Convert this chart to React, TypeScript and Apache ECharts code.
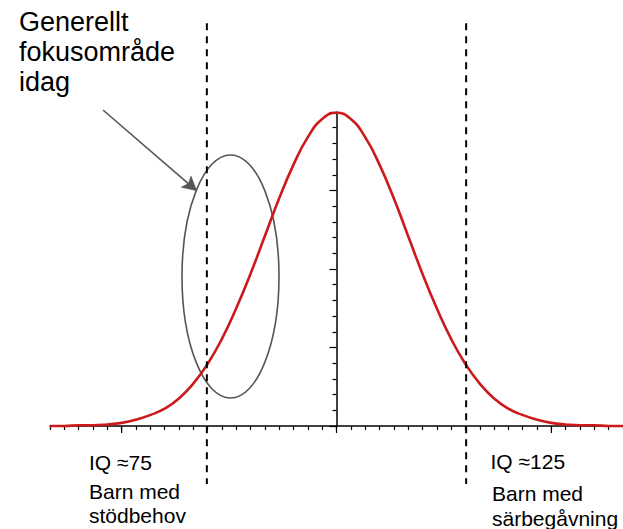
import React, { useEffect, useRef } from "react";
import * as echarts from "echarts";

// z-values (standard units) along the x-axis
const xValues = [
  -4, -3.8, -3.6, -3.4, -3.2, -3, -2.8, -2.6, -2.4, -2.2, -2, -1.8, -1.6, -1.4, -1.2, -1, -0.8,
  -0.6, -0.4, -0.2, 0, 0.2, 0.4, 0.6, 0.8, 1, 1.2, 1.4, 1.6, 1.8, 2, 2.2, 2.4, 2.6, 2.8, 3, 3.2,
  3.4, 3.6, 3.8, 4,
];
// curve heights
const density = [
  0, 0, 0.001, 0.001, 0.002, 0.004, 0.008, 0.014, 0.022, 0.035, 0.054, 0.079, 0.111, 0.15, 0.194,
  0.242, 0.29, 0.333, 0.368, 0.391, 0.399, 0.391, 0.368, 0.333, 0.29, 0.242, 0.194, 0.15, 0.111,
  0.079, 0.054, 0.035, 0.022, 0.014, 0.008, 0.004, 0.002, 0.001, 0.001, 0, 0,
];
const majorXTicks = [-3, 0, 3];
const dashedMarks = [-1.81, 1.81];
const dashedSpan = [-0.074, 0.513];

const titleLines = ["Generellt", "fokusområde", "idag"];
const leftLabels = ["IQ ≈75", "Barn med", "stödbehov"];
const rightLabels = ["IQ ≈125", "Barn med", "särbegåvning"];

const FONT = "'Liberation Sans', Arial, Helvetica, sans-serif";

export default function App() {
  const ref = useRef<HTMLDivElement>(null);

  useEffect(() => {
    if (!ref.current) return;
    const chart = echarts.init(ref.current, undefined, { renderer: "svg" });

    const tip = [196.7, 190.7];
    const start = [103, 110];
    const dx = tip[0] - start[0];
    const dy = tip[1] - start[1];
    const len = Math.sqrt(dx * dx + dy * dy);
    const ux = dx / len;
    const uy = dy / len;
    const px = -uy;
    const py = ux;
    const headLen = 14;
    const halfW = 7.5;
    const notch = 11;
    const bx = tip[0] - headLen * ux;
    const by = tip[1] - headLen * uy;
    const nx = tip[0] - notch * ux;
    const ny = tip[1] - notch * uy;

    const text = (t: string, x: number, y: number, size: number) => ({
      type: "text",
      x,
      y,
      style: {
        text: t,
        fontSize: size,
        fontFamily: FONT,
        fill: "#000",
        align: "left",
        verticalAlign: "middle",
      },
    });

    const graphics: any[] = [
      {
        type: "ellipse",
        shape: { cx: 230.5, cy: 276.5, rx: 48.5, ry: 121.5 },
        style: { fill: "none", stroke: "#555", lineWidth: 1.6 },
      },
      {
        type: "line",
        shape: { x1: start[0], y1: start[1], x2: nx, y2: ny },
        style: { stroke: "#555", lineWidth: 1.6 },
      },
      {
        type: "polygon",
        shape: {
          points: [
            [tip[0], tip[1]],
            [bx + halfW * px, by + halfW * py],
            [nx, ny],
            [bx - halfW * px, by - halfW * py],
          ],
        },
        style: { fill: "#555", stroke: "#555", lineWidth: 0.5 },
      },
      text(titleLines[0], 19, 22, 27),
      text(titleLines[1], 19, 52, 27),
      text(titleLines[2], 19, 82, 27),
      text(leftLabels[0], 89, 462, 21),
      text(leftLabels[1], 89, 491.5, 21),
      text(leftLabels[2], 89, 515.5, 21),
      text(rightLabels[0], 490.5, 461, 21),
      text(rightLabels[1], 492, 493.5, 21),
      text(rightLabels[2], 492, 518, 21),
    ];

    chart.setOption({
      animation: false,
      grid: { left: 50, top: 112, width: 573.4, height: 314 },
      xAxis: {
        type: "value",
        min: -4,
        max: 4,
        interval: 0.2,
        axisLine: { show: true, onZero: true, lineStyle: { color: "#000", width: 1.5 } },
        axisTick: { show: true, length: 4, lineStyle: { color: "#000", width: 1.2 } },
        axisLabel: { show: false },
        splitLine: { show: false },
      },
      yAxis: {
        type: "value",
        min: 0,
        max: 0.4,
        interval: 0.1,
        axisLine: { show: true, onZero: true, lineStyle: { color: "#000", width: 1.5 } },
        axisTick: { show: true, length: 7, lineStyle: { color: "#000", width: 1.2 } },
        minorTick: { show: true, splitNumber: 5, length: 4, lineStyle: { color: "#000", width: 1.2 } },
        axisLabel: { show: false },
        splitLine: { show: false },
        minorSplitLine: { show: false },
      },
      series: [
        {
          type: "custom",
          clip: false,
          silent: true,
          data: majorXTicks.map((v) => [v]),
          renderItem: (_params: any, api: any) => {
            const p = api.coord([api.value(0), 0]);
            return {
              type: "line",
              shape: { x1: p[0], y1: p[1], x2: p[0], y2: p[1] + 7 },
              style: { stroke: "#000", lineWidth: 1.2 },
            };
          },
        },
        {
          type: "line",
          data: xValues.map((x, i) => [x, density[i]]),
          smooth: true,
          symbol: "none",
          clip: false,
          lineStyle: { color: "#cc1a1c", width: 2.6 },
          z: 3,
        },
        {
          type: "custom",
          clip: false,
          silent: true,
          z: 4,
          data: dashedMarks.map((v) => [v]),
          renderItem: (_params: any, api: any) => {
            const top = api.coord([api.value(0), dashedSpan[1]]);
            const bottom = api.coord([api.value(0), dashedSpan[0]]);
            return {
              type: "line",
              shape: { x1: top[0], y1: top[1], x2: bottom[0], y2: bottom[1] },
              style: { stroke: "#000", lineWidth: 2, lineDash: [7, 6] },
            };
          },
        },
      ],
      graphic: graphics,
    });

    return () => chart.dispose();
  }, []);

  return (
    <div
      ref={ref}
      style={{ position: "fixed", left: 0, top: 0, width: 623, height: 529, background: "#fff" }}
    />
  );
}
